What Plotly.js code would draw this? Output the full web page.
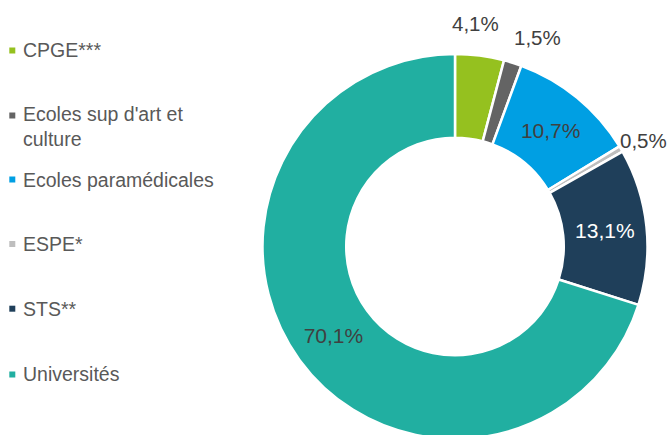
<!DOCTYPE html>
<html>
<head>
<meta charset="utf-8">
<script src="https://cdn.plot.ly/plotly-3.0.1.min.js"></script>
<style>
html, body { margin: 0; padding: 0; overflow: hidden; background: #ffffff; }
#chart { width: 669px; height: 440px; }
</style>
</head>
<body>
<div id="chart"></div>
<script>
// Data
var categories = ["CPGE***", "Ecoles sup d'art et culture", "Ecoles paramédicales", "ESPE*", "STS**", "Universités"];
var legendLabels = ["CPGE***", "Ecoles sup d'art et<br>culture", "Ecoles paramédicales", "ESPE*", "STS**", "Universités"];
var shares = [4.1, 1.5, 10.7, 0.5, 13.1, 70.1];

// Styles
var colors = ["#95C11F", "#646464", "#009FE3", "#BEBEBE", "#1F3F5A", "#21AFA1"];
var textColors = ["#404040", "#404040", "#404040", "#404040", "#FFFFFF", "#404040"];
var outsideSlice = [true, true, false, true, false, false];
// manual pixel nudges of the outside labels (dx, dy), as in the original layout
var labelNudgeX = [-8, 15, 0, -4, 0, 0];
var labelNudgeY = [-1, 4, 0, 7, 0, 0];
var FONT = "Liberation Sans, Arial, sans-serif";
var W = 669, H = 440;
var CX = 455, CY = 246.5, R = 192.5;

var trace = {
  type: "pie",
  labels: categories,
  values: shares,
  sort: false,
  direction: "clockwise",
  rotation: 0,
  hole: 0.565,
  marker: { colors: colors, line: { color: "#FFFFFF", width: 2.5 } },
  texttemplate: "%{value:.1f}%",
  textposition: outsideSlice.map(function (o) { return o ? "none" : "inside"; }),
  insidetextorientation: "horizontal",
  textfont: { family: FONT, size: 21, color: textColors },
  showlegend: false,
  hoverinfo: "label+value",
  automargin: false,
  domain: { x: [(CX - R) / W, (CX + R) / W], y: [(H - CY - R) / H, (H - CY + R) / H] }
};

// Legend built from the same arrays
var legendY = [50.5, 126, 179.5, 244, 308.7, 374];
var markerY = [50.5, 115.5, 179.5, 244, 308.7, 374.5];
var annotations = legendLabels.map(function (t, i) {
  return {
    xref: "paper", yref: "paper",
    x: 21 / W, y: 1 - legendY[i] / H,
    xanchor: "left", yanchor: "middle",
    align: "left",
    text: t, showarrow: false,
    font: { family: FONT, size: 19.5, color: "#595959" }
  };
});

// Outside labels for the thin slices, placed along each slice's mid angle
var total = shares.reduce(function (a, b) { return a + b; }, 0);
var cum = 0;
shares.forEach(function (v, i) {
  var mid = (cum + v / 2) / total * 2 * Math.PI;
  cum += v;
  if (!outsideSlice[i]) return;
  var d = R + 31;
  annotations.push({
    xref: "paper", yref: "paper",
    x: (CX + d * Math.sin(mid) + labelNudgeX[i]) / W,
    y: 1 - (CY - d * Math.cos(mid) + labelNudgeY[i]) / H,
    xanchor: "center", yanchor: "middle",
    text: v.toFixed(1).replace(".", ",") + "%",
    showarrow: false,
    font: { family: FONT, size: 20.5, color: "#404040" }
  });
});

var shapes = colors.map(function (c, i) {
  return {
    type: "rect", xref: "paper", yref: "paper",
    xsizemode: "pixel", ysizemode: "pixel",
    xanchor: 12.3 / W, yanchor: 1 - markerY[i] / H,
    x0: -3, x1: 3, y0: -3, y1: 3,
    fillcolor: c, line: { width: 0 }
  };
});

var layout = {
  width: W, height: H,
  margin: { l: 0, r: 0, t: 0, b: 0 },
  paper_bgcolor: "#FFFFFF",
  separators: ", ",
  showlegend: false,
  annotations: annotations,
  shapes: shapes,
  font: { family: FONT }
};

Plotly.newPlot("chart", [trace], layout, { displayModeBar: false, staticPlot: true });
</script>
</body>
</html>
